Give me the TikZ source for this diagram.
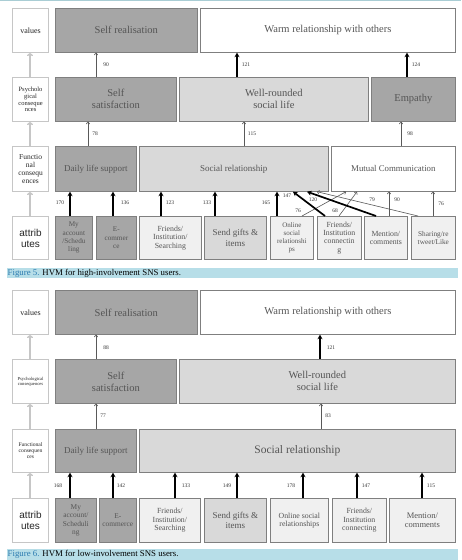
\documentclass[tikz,border=0pt]{standalone}
\usepackage{fontspec}
\setmainfont{Liberation Serif}
\newfontfamily\sansf{Liberation Sans}
\usetikzlibrary{arrows.meta}
\definecolor{dk}{HTML}{A6A6A6}
\definecolor{md}{HTML}{D9D9D9}
\definecolor{lt}{HTML}{F0F0F0}
\definecolor{bord}{HTML}{7F7F7F}
\definecolor{lbord}{HTML}{C6C6C6}
\definecolor{txt}{HTML}{555555}
\definecolor{capbar}{HTML}{B7DEE8}
\definecolor{capfig}{HTML}{2B7BB0}
\definecolor{topline}{HTML}{A9CDD4}
\newcommand{\fs}[2]{\fontsize{#1}{#2}\selectfont}
\begin{document}
\begin{tikzpicture}[x=1pt,y=-1pt,
  bx/.style={draw=bord, line width=0.7pt, anchor=north west, align=center, inner sep=1pt, text=txt},
  dkbox/.style={bx, fill=dk},
  mdbox/.style={bx, fill=md},
  ltbox/.style={bx, fill=lt},
  whbox/.style={bx, fill=white},
  lbl/.style={draw=lbord, line width=1.1pt, anchor=north west, align=center, inner sep=0.5pt, fill=white, text=black!85, minimum width=36pt},
  big/.style={font=\fs{10.5}{12}},
  mid/.style={font=\fs{9}{10.5}},
  att/.style={font=\fs{7.8}{8.4}},
  num/.style={font=\fs{5.5}{6}, text=black!80, inner sep=0pt},
  thinarr/.style={draw=black!65, line width=0.6pt, -{To[length=2.5pt,width=4pt]}},
  thickarr/.style={draw=black, line width=1.7pt, -{Stealth[length=4.5pt,width=5pt]}},
  grayarr/.style={draw=lbord, line width=1.4pt, -{To[length=3pt,width=6pt]}},
]
\useasboundingbox (0,0) rectangle (461,560);
\fill[white] (0,0) rectangle (461,560);
\draw[topline, line width=0.8pt] (0,0.4) -- (461,0.4);

% ================= Figure 5 =================
\node[lbl, minimum height=44pt, font=\fs{8}{9}] (v5) at (12,8) {values};
\node[dkbox, big, minimum width=142pt, minimum height=44pt] (sr5) at (55,8) {Self realisation};
\node[whbox, big, minimum width=255pt, minimum height=44pt] (wr5) at (200,8) {Warm relationship with others};

\node[lbl, minimum height=44pt, font=\fs{6.5}{6.8}] (p5) at (12,77) {Psycholo\\gical\\conseque\\nces};
\node[dkbox, big, minimum width=121pt, minimum height=44pt] (ss5) at (55,77) {Self\\satisfaction};
\node[mdbox, big, minimum width=189pt, minimum height=44pt] (wl5) at (179,77) {Well-rounded\\social life};
\node[dkbox, big, minimum width=84pt, minimum height=44pt] (em5) at (371,77) {Empathy};

\node[lbl, minimum height=45pt, font=\fs{7.5}{8.3}] (f5) at (12,146) {Functio\\nal\\consequ\\ences};
\node[dkbox, mid, minimum width=81pt, minimum height=45pt] (ds5) at (55,146) {Daily life support};
\node[mdbox, mid, minimum width=189pt, minimum height=45pt] (so5) at (139,146) {Social relationship};
\node[whbox, font=\fs{8.8}{10}, minimum width=124pt, minimum height=45pt] (mc5) at (331,146) {Mutual Communication};

\node[lbl, minimum height=43pt, font=\sansf\fs{10}{10.8}] (a5) at (12,216) {attrib\\utes};
\node[dkbox, font=\fs{7.2}{8.3}, minimum width=37pt, minimum height=43pt] (ma5) at (55,216) {My\\account\\/Schedu\\ling};
\node[dkbox, font=\fs{7.2}{8.3}, minimum width=40pt, minimum height=43pt] (ec5) at (96,216) {E-\\commer\\ce};
\node[ltbox, att, minimum width=62pt, minimum height=43pt] (fs5) at (139,216) {Friends/\\Institution/\\Searching};
\node[mdbox, mid, minimum width=62pt, minimum height=43pt] (sg5) at (204,216) {Send gifts \&\\items};
\node[ltbox, font=\fs{7}{8.1}, minimum width=43pt, minimum height=43pt] (os5) at (270,216) {Online\\social\\relationshi\\ps};
\node[ltbox, att, minimum width=44pt, minimum height=43pt] (fc5) at (317,216) {Friends/\\Institution\\connectin\\g};
\node[ltbox, att, minimum width=43pt, minimum height=43pt] (mn5) at (364,216) {Mention/\\comments};
\node[ltbox, font=\fs{7.3}{8.3}, minimum width=44pt, minimum height=43pt] (sh5) at (411,216) {Sharing/re\\tweet/Like};

% left column arrows
\draw[grayarr] (30,0 |- a5.north) -- (30,0 |- f5.south);
\draw[grayarr] (30,0 |- f5.north) -- (30,0 |- p5.south);
\draw[grayarr] (30,0 |- p5.north) -- (30,0 |- v5.south);

% arrows to values
\draw[thinarr] (96,0 |- ss5.north) -- (96,0 |- sr5.south);
\draw[thickarr] (237,0 |- wl5.north) -- (237,0 |- wr5.south);
\draw[thickarr] (407,0 |- em5.north) -- (407,0 |- wr5.south);
\node[num] (l90a) at (106,65) {90};
\node[num] (l121a) at (246,65) {121};
\node[num] (l124) at (416,65) {124};

% functional -> psychological
\draw[thinarr] (88,0 |- ds5.north) -- (88,0 |- ss5.south);
\draw[thinarr] (244,0 |- so5.north) -- (244,0 |- wl5.south);
\draw[thinarr] (401,0 |- mc5.north) -- (401,0 |- em5.south);
\node[num] (l78) at (95,134) {78};
\node[num] (l115a) at (252,134) {115};
\node[num] (l98) at (410,134) {98};

% attributes -> functional
\draw[thickarr] (70,0 |- ma5.north) -- (70,0 |- ds5.south);
\draw[thickarr] (113,0 |- ec5.north) -- (113,0 |- ds5.south);
\draw[thickarr] (161,0 |- fs5.north) -- (161,0 |- so5.south);
\draw[thickarr] (215,0 |- sg5.north) -- (215,0 |- so5.south);
\draw[thickarr] (277,0 |- os5.north) -- (277,0 |- so5.south);
\draw[thinarr] (302,0 |- os5.north) -- (346,0 |- mc5.south);
\draw[thickarr] (325,0 |- fc5.north) -- (293,0 |- so5.south);
\draw[thinarr] (339,0 |- fc5.north) -- (357,0 |- mc5.south);
\draw[thickarr] (376,0 |- mn5.north) -- (307,0 |- so5.south);
\draw[thinarr] (389,0 |- mn5.north) -- (389,0 |- mc5.south);
\draw[thinarr] (418,0 |- sh5.north) -- (317,0 |- so5.south);
\draw[thinarr] (433,0 |- sh5.north) -- (433,0 |- mc5.south);
\node[num] (l170) at (60,203) {170};
\node[num] (l136) at (125,203) {136};
\node[num] (l123) at (170,203) {123};
\node[num] (l133a) at (207,203) {133};
\node[num] (l165) at (266,203) {165};
\node[num] (l76a) at (298,211) {76};
\node[num] (l147a) at (287,196) {147};
\node[num] (l68) at (335,211) {68};
\node[num] (l120) at (313,199.5) {120};
\node[num] (l90b) at (397,200) {90};
\node[num] (l79) at (372,200) {79};
\node[num] (l76b) at (441,203.5) {76};

% caption 5
\fill[capbar] (7,267.5) rectangle (458,278);
\node[anchor=west, inner sep=0pt, font=\fs{8.8}{10}] (cap5) at (7.5,273) {\textcolor{capfig}{Figure 5.} HVM for high-involvement SNS users.};

% ================= Figure 6 =================
\node[lbl, minimum height=44pt, font=\fs{8}{9}] (v6) at (12,290) {values};
\node[dkbox, big, minimum width=142pt, minimum height=44pt] (sr6) at (55,290) {Self realisation};
\node[whbox, big, minimum width=255pt, minimum height=44pt] (wr6) at (200,290) {Warm relationship with others};

\node[lbl, minimum height=44pt, font=\fs{4.6}{5}] (p6) at (12,359) {Psychological\\consequences};
\node[dkbox, big, minimum width=121pt, minimum height=44pt] (ss6) at (55,359) {Self\\satisfaction};
\node[mdbox, big, minimum width=276pt, minimum height=44pt] (wl6) at (179,359) {Well-rounded\\social life};

\node[lbl, minimum height=43pt, font=\fs{5.6}{6}] (f6) at (12,429) {Functional\\consequen\\ces};
\node[dkbox, mid, minimum width=81pt, minimum height=43pt] (ds6) at (55,429) {Daily life support};
\node[mdbox, font=\fs{11.5}{13}, minimum width=316pt, minimum height=43pt] (so6) at (139,429) {Social relationship};

\node[lbl, minimum height=44pt, font=\sansf\fs{10}{10.8}] (a6) at (12,498) {attrib\\utes};
\node[dkbox, font=\fs{7.4}{8.3}, minimum width=41pt, minimum height=44pt] (ma6) at (55,498) {My\\account/\\Scheduli\\ng};
\node[dkbox, font=\fs{7.4}{8.3}, minimum width=37pt, minimum height=44pt] (ec6) at (99,498) {E-\\commerce};
\node[ltbox, att, minimum width=61pt, minimum height=44pt] (fs6) at (139,498) {Friends/\\Institution/\\Searching};
\node[mdbox, mid, minimum width=62pt, minimum height=44pt] (sg6) at (204,498) {Send gifts \&\\items};
\node[ltbox, att, minimum width=58pt, minimum height=44pt] (os6) at (270,498) {Online social\\relationships};
\node[ltbox, att, minimum width=54pt, minimum height=44pt] (fc6) at (332,498) {Friends/\\Institution\\connecting};
\node[ltbox, font=\fs{8.5}{9.4}, minimum width=66pt, minimum height=44pt] (mn6) at (389,498) {Mention/\\comments};

\draw[grayarr] (30,0 |- a6.north) -- (30,0 |- f6.south);
\draw[grayarr] (30,0 |- f6.north) -- (30,0 |- p6.south);
\draw[grayarr] (30,0 |- p6.north) -- (30,0 |- v6.south);

\draw[thinarr] (96,0 |- ss6.north) -- (96,0 |- sr6.south);
\draw[thickarr] (320,0 |- wl6.north) -- (320,0 |- wr6.south);
\node[num] (l88) at (106,348) {88};
\node[num] (l121b) at (331,348) {121};

\draw[thinarr] (96,0 |- ds6.north) -- (96,0 |- ss6.south);
\draw[thinarr] (321,0 |- so6.north) -- (321,0 |- wl6.south);
\node[num] (l77) at (103,416) {77};
\node[num] (l83) at (328,416) {83};

\draw[thickarr] (70,0 |- ma6.north) -- (70,0 |- ds6.south);
\draw[thickarr] (113,0 |- ec6.north) -- (113,0 |- ds6.south);
\draw[thickarr] (175,0 |- fs6.north) -- (175,0 |- so6.south);
\draw[thickarr] (237,0 |- sg6.north) -- (237,0 |- so6.south);
\draw[thickarr] (303,0 |- os6.north) -- (303,0 |- so6.south);
\draw[thickarr] (357,0 |- fc6.north) -- (357,0 |- so6.south);
\draw[thickarr] (422,0 |- mn6.north) -- (422,0 |- so6.south);
\node[num] (l168) at (58,486) {168};
\node[num] (l142) at (121,486) {142};
\node[num] (l133b) at (186,486) {133};
\node[num] (l149) at (227,486) {149};
\node[num] (l178) at (291,486) {178};
\node[num] (l147b) at (366,486) {147};
\node[num] (l115b) at (431,486) {115};

% caption 6
\fill[capbar] (7,549) rectangle (458,559.5);
\node[anchor=west, inner sep=0pt, font=\fs{8.8}{10}] (cap6) at (7.5,554.5) {\textcolor{capfig}{Figure 6.} HVM for low-involvement SNS users.};
\end{tikzpicture}
\end{document}
